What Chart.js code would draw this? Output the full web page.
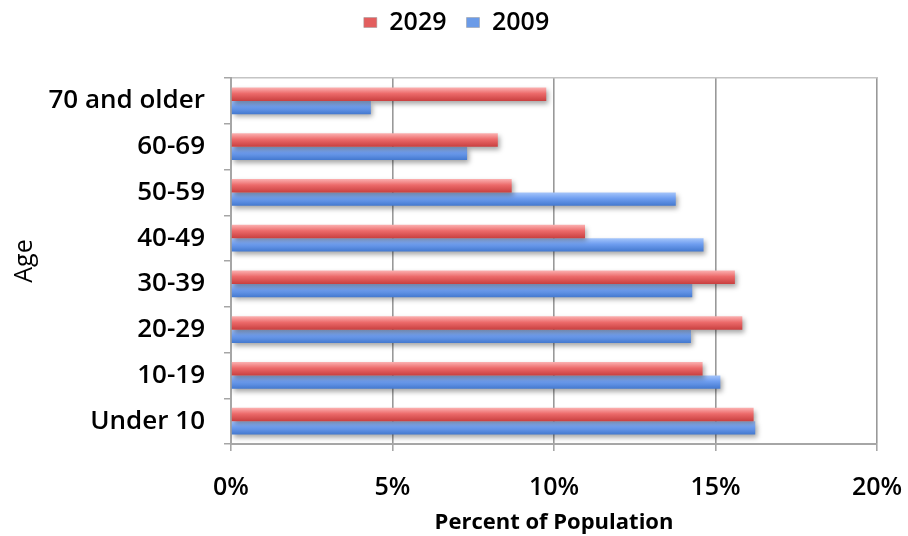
<!DOCTYPE html>
<html><head><meta charset="utf-8">
<script src="https://cdn.jsdelivr.net/npm/chart.js@4/dist/chart.umd.min.js"></script>
<style>html,body{margin:0;padding:0;background:#fff}#wrap{width:908px;height:536px}</style>
</head><body><div id="wrap"><canvas id="c" width="908" height="536"></canvas></div>
<script>
const categories = ['70 and older','60-69','50-59','40-49','30-39','20-29','10-19','Under 10'];
const seriesNames = ['2029','2009'];
const values2029 = [9.76, 8.26, 8.69, 10.96, 15.60, 15.83, 14.60, 16.18];
const values2009 = [4.33, 7.31, 13.77, 14.63, 14.28, 14.24, 15.15, 16.23];
const xTickValues = [0, 5, 10, 15, 20];
const xTitle = 'Percent of Population';
const yTitle = 'Age';

const CAT_PCT = 0.58;
function barGradient(light, mid, dark){
  return function(ctx){
    const chart = ctx.chart;
    const ys = chart.scales && chart.scales.y;
    if (!ys || ctx.type !== 'data' || !(ys.bottom > ys.top)) return mid;
    const band = (ys.bottom - ys.top) / categories.length;
    const size = band * CAT_PCT / 2;
    const c = ys.getPixelForValue(ctx.dataIndex);
    const top = c - band * CAT_PCT / 2 + ctx.datasetIndex * size;
    const g = chart.ctx.createLinearGradient(0, top, 0, top + size);
    g.addColorStop(0, light);
    g.addColorStop(0.45, mid);
    g.addColorStop(1, dark);
    return g;
  };
}

const shadowPlugin = {
  id: 'barShadow',
  beforeDatasetsDraw(chart){
    const c = chart.ctx; c.save();
    c.shadowColor = 'rgba(0,0,0,0.35)';
    c.shadowBlur = 5; c.shadowOffsetX = 2; c.shadowOffsetY = 3;
  },
  afterDatasetsDraw(chart){ chart.ctx.restore(); }
};
const legendShift = {
  id: 'legendShift',
  afterLayout(chart){
    if (chart.legend) { chart.legend.left += 18; chart.legend.right += 18; }
  }
};

const axisGray = '#a6a6a6';
new Chart(document.getElementById('c'), {
  type: 'bar',
  data: {
    labels: categories,
    datasets: [
      { label: seriesNames[0], data: values2029,
        backgroundColor: barGradient('#fbb0b0', '#ec6a6a', '#c94040'),
        borderWidth: 0 },
      { label: seriesNames[1], data: values2009,
        backgroundColor: barGradient('#a6c6fb', '#6f9ef0', '#4479cf'),
        borderWidth: 0 }
    ]
  },
  options: {
    indexAxis: 'y',
    responsive: false,
    animation: false,
    devicePixelRatio: 1,
    datasets: { bar: { categoryPercentage: CAT_PCT, barPercentage: 1.0 } },
    layout: { padding: { left: 0, right: 31, top: -10, bottom: 0 } },
    plugins: {
      legend: {
        position: 'top',
        labels: {
          color: '#000',
          boxWidth: 13, boxHeight: 10,
          padding: 20,
          font: { family: 'Open Sans', size: 25, weight: '600' },
          generateLabels(chart){
            const cols = ['#e35e5e', '#6b9be8'];
            return chart.data.datasets.map((d, i) => ({
              text: d.label, fillStyle: cols[i], strokeStyle: '#999', lineWidth: 0.5,
              datasetIndex: i, hidden: false, fontColor: '#000'
            }));
          }
        }
      },
      tooltip: { enabled: false }
    },
    scales: {
      x: {
        position: 'bottom',
        min: 0, max: 20,
        afterBuildTicks(s){ s.ticks = xTickValues.map(v => ({ value: v })); },
        afterFit(s){ s.height = 92; s.paddingRight = 0; s.paddingLeft = 0; },
        ticks: {
          color: '#000',
          font: { family: 'Open Sans', size: 25, weight: '600' },
          padding: 22,
          callback: v => v + '%'
        },
        grid: { color: '#999', lineWidth: 1.6, tickLength: 7, tickColor: axisGray },
        border: { color: axisGray, width: 2 },
        title: {
          display: true, text: xTitle, color: '#000',
          font: { family: 'Open Sans', size: 22, weight: 'bold' },
          padding: { top: 0, bottom: 0 }
        }
      },
      x2: {
        axis: 'x', type: 'linear', position: 'top', min: 0, max: 20,
        ticks: { display: false },
        grid: { drawOnChartArea: false, drawTicks: false },
        border: { color: '#c4c4c4', width: 1.5 },
        afterFit(s){ s.height = 33; s.paddingRight = 0; s.paddingLeft = 0; }
      },
      y: {
        afterFit(s){ s.width = 231; },
        ticks: {
          color: '#000',
          font: { family: 'Open Sans', size: 26, weight: '600' },
          padding: 19
        },
        grid: { offset: true, drawOnChartArea: false, tickLength: 7, color: axisGray, lineWidth: 1.5 },
        border: { color: axisGray, width: 2 },
        title: {
          display: true, text: yTitle, color: '#000',
          font: { family: 'Open Sans', size: 25, weight: '500' },
          padding: { top: 10, bottom: 4 }
        }
      }
    }
  },
  plugins: [shadowPlugin, legendShift]
});
</script>
</body></html>
